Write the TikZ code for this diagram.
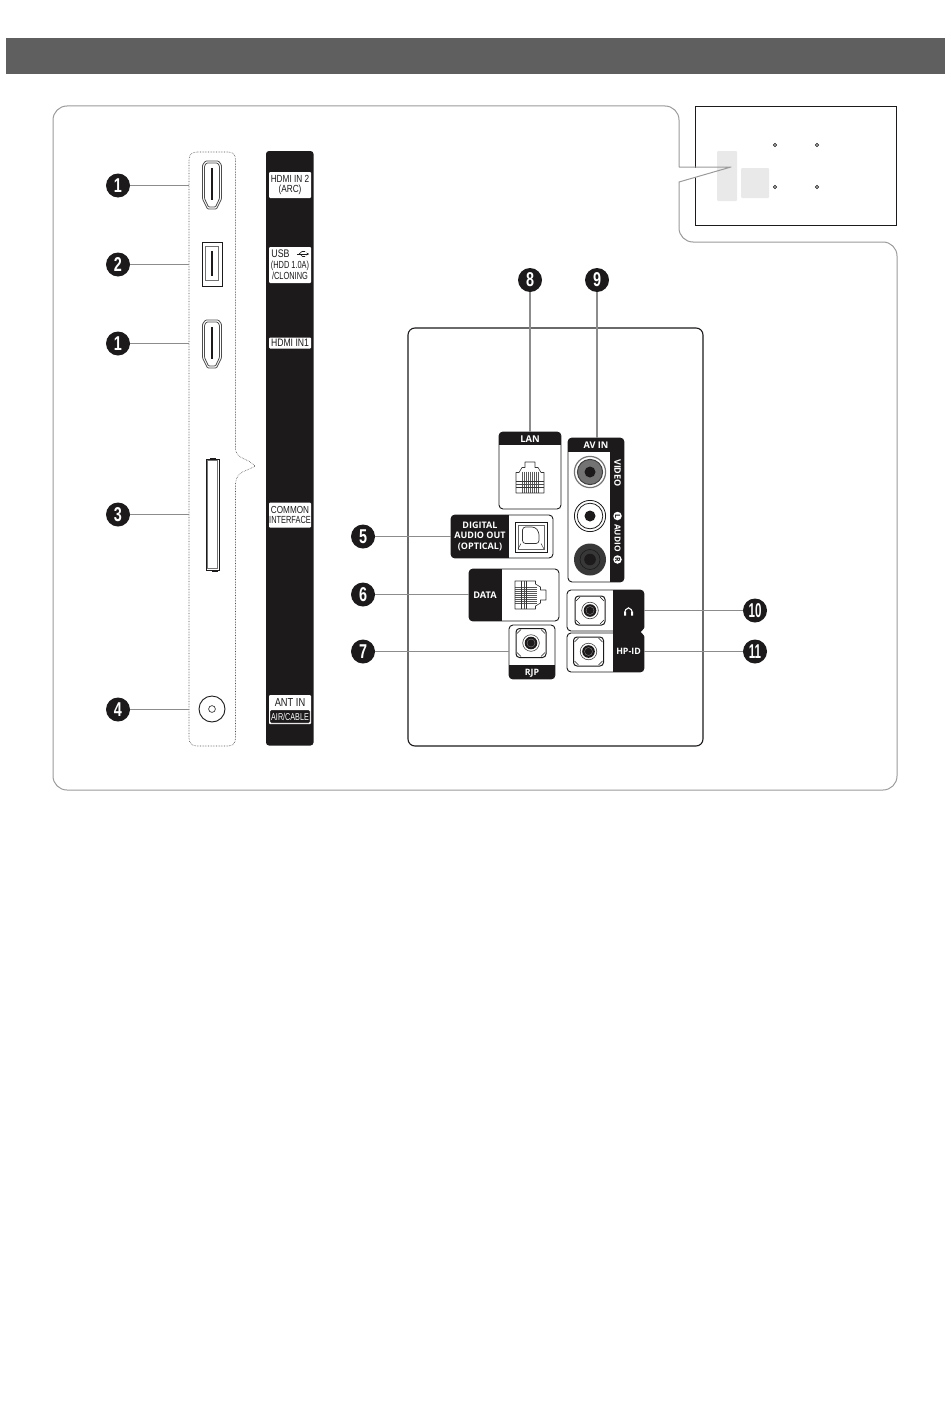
\documentclass[tikz,border=0pt]{standalone}
\usepackage{fontspec}
\setmainfont{Liberation Sans}
\newfontfamily\narrowf[FakeStretch=0.8]{Liberation Sans}
\newfontfamily\condf[FakeStretch=0.72]{Liberation Sans}
\newfontfamily\numf[FakeStretch=0.72]{Liberation Sans}
\newfontfamily\numtwo[FakeStretch=0.58]{Liberation Sans}
\newfontfamily\portf{Open Sans}
\usetikzlibrary{fit,arrows.meta}
\definecolor{headgray}{HTML}{5F5F5F}
\definecolor{panelgray}{HTML}{9A9A9A}
\definecolor{leadgray}{HTML}{8C8C8C}
\definecolor{softgray}{HTML}{E9E9E9}
\definecolor{band}{HTML}{1C1A1B}
\tikzset{
  panelline/.style={draw=panelgray,line width=1pt},
  lead/.style={draw=leadgray,line width=1.1pt},
  badge/.style={circle,fill=band,text=white,minimum size=24pt,inner sep=0pt,font=\fontsize{20}{20}\numf\bfseries},
  badgetwo/.style={badge,font=\fontsize{20}{20}\numtwo\bfseries},
  bandlabel/.style={fill=white,text=band,rounded corners=1pt,inner sep=0pt,align=center,minimum width=42pt},
  portbox/.style={draw=band,fill=white,line width=0.9pt,rounded corners=4pt,inner sep=0pt,outer sep=0pt},
  portlabel/.style={text=white,inner sep=0pt,align=center,font=\fontsize{8.8}{10.2}\portf\bfseries},
  thinblack/.style={draw=black!80,line width=0.6pt},
  hdmiout/.style={draw=black!70,line width=0.8pt},
  hollow/.style={inner sep=0pt,outer sep=0pt},
}
\newcommand\pbox[5]{%
  \node[portbox,fit={#2#3}] (#1) {};
  \begin{scope}\clip[rounded corners=4pt] #2 rectangle #3; \fill[band] #4 rectangle #5;\end{scope}}
\newcommand\hdmiport[1]{%
  \begin{scope}[shift={#1}]
    \draw[hdmiout,rounded corners=1pt] (-6.5,-24) -- (6.5,-24) -- (9.5,-20) -- (9.5,14) -- (4.5,24) -- (-4.5,24) -- (-9.5,14) -- (-9.5,-20) -- cycle;
    \draw[hdmiout,rounded corners=1pt] (-5.5,-22) -- (5.5,-22) -- (7.5,-19) -- (7.5,13.5) -- (3.5,22) -- (-3.5,22) -- (-7.5,13.5) -- (-7.5,-19) -- cycle;
    \draw[band,line width=2.6pt] (0,-17) -- (0,15);
  \end{scope}}
\newcommand\rjport[2]{%
  \begin{scope}[shift={#1},rotate=#2]
    \foreach \px in {-8,-6,...,8} \draw[black!65,line width=0.4pt] (\px,-6) -- (\px,15.5);
    \draw[thinblack,line join=round] (-14,15.5) -- (-14,-5) -- (-11,-5) -- (-8,-10) -- (-5,-10) -- (-5,-15.5) -- (5,-15.5) -- (5,-10) -- (8,-10) -- (11,-5) -- (14,-5) -- (14,15.5) -- cycle;
    \draw[thinblack] (-14,4) -- (14,4) (-14,9.5) -- (14,9.5);
    \draw[black!70,line width=0.35pt] (-14,6.5) -- (14,6.5);
  \end{scope}}
\newcommand\jackport[1]{%
  \begin{scope}[shift={#1}]
    \draw[draw=band,line width=1pt,rounded corners=3.5pt] (-15,-14.5) rectangle (15,14.5);
    \draw[draw=band,line width=0.5pt] (-14,-9.5) -- (-10,-13.5) (14,-9.5) -- (10,-13.5) (-14,9.5) -- (-10,13.5) (14,9.5) -- (10,13.5);
    \draw[draw=black!75,line width=0.6pt] (0,0) circle (8.3pt);
    \fill[band] (0,0) circle (6.3pt);
    \fill[black!55] (0,0) circle (4.3pt);
    \fill[band] (0,0) circle (3.6pt);
  \end{scope}}
\begin{document}
\begin{tikzpicture}[x=1pt,y=-1pt]
\useasboundingbox (0,0) rectangle (950,1426);
% header
\node[fill=headgray,hollow,fit={(6,38)(945,74)}] (header) {};
% locator inset
\node[draw=band,line width=1pt,hollow,fit={(695,107)(896.5,225)}] (inset) {};
\fill[softgray,rounded corners=1pt] (717,151) rectangle (737,201);
\fill[softgray,rounded corners=1pt] (741,168) rectangle (769,198);
\foreach \dx/\dy in {775/145,817/145,775/187,817/187}
  \draw[band,line width=0.8pt,fill=white] (\dx,\dy) circle (1.6pt);
\fill[white] (693.5,167.6) rectangle (696.5,177);
% outer outline with notch
\draw[panelline,rounded corners=14pt,line join=round] (53,300) -- (53,106) -- (679,106) -- (679,150) [sharp corners] -- (679,167) -- (731,167) -- (679,182) -- (679,205) [rounded corners=14pt] -- (679,242) -- (897,242) -- (897,790) -- (53,790) -- cycle;
% dotted strip
\node[hollow,minimum width=47pt,minimum height=594pt] (strip) at (212.5,449) {};
\draw[draw=black!70,line width=0.6pt,densely dotted]
  (197,152) -- (228,152) .. controls (233,152) and (235.5,154.5) .. (235.5,160) -- (235.5,449)
  .. controls (236,459) and (248,458) .. (255,466) .. controls (249,471) and (236,470) .. (235.5,484)
  -- (235.5,738) .. controls (235.5,743) and (233,746) .. (228,746) -- (197,746)
  .. controls (192,746) and (189,743) .. (189,738) -- (189,160) .. controls (189,154.5) and (192,152) .. (197,152) -- cycle;
% side ports
\hdmiport{(212,185)}
\hdmiport{(212,344)}
\node[draw=band,line width=0.8pt,hollow,fit={(202.5,242)(222,286.5)}] (usbport) {};
\draw[draw=black!55,line width=1pt] (205.5,246.5) rectangle (218.5,280.5);
\draw[band,line width=2.2pt] (212,251) -- (212,276);
\node[draw=band,line width=0.8pt,hollow,fit={(206,459)(219,570)}] (cislot) {};
\draw[draw=black!55,line width=1pt] (207.8,460.5) rectangle (217.2,568.5);
\draw[band,line width=0.7pt] (210,458) -- (216,458) (212,571) -- (218,571);
\node[circle,draw=band,line width=0.9pt,minimum size=26pt,hollow] (antport) at (212,709) {};
\draw[draw=band,line width=0.6pt] (antport.center) circle (3.4pt);
% black band
\node[fill=band,rounded corners=3pt,hollow,fit={(266,151)(313.5,745.5)}] (blackband) {};
\node[bandlabel,minimum height=26pt,font=\fontsize{10.3}{10.6}\narrowf] (l1) at (290,185) {HDMI IN 2\\(ARC)};
\node[bandlabel,minimum height=36pt,font=\fontsize{10.3}{10.8}\condf] (l2) at (290,265) {{\fontsize{11}{10.8}\narrowf USB}\hspace{17pt}\phantom{.}\\(HDD 1.0A)\\/CLONING};
\draw[band,line width=0.6pt,-{Stealth[length=2.5pt,width=2.5pt]}] (297,254) -- (309,254);
\draw[band,line width=0.6pt] (299,254) -- (302,251.5) -- (305,251.5) (300,254) -- (302.5,256.5) -- (305,256.5);
\node[bandlabel,minimum height=11pt,font=\fontsize{10.8}{11}\narrowf] (l3) at (290,343) {HDMI IN1};
\node[bandlabel,minimum height=25pt,font=\fontsize{10.3}{10.8}\condf] (l4) at (290,515) {{\fontsize{10.2}{10.8}\narrowf COMMON}\\INTERFACE};
\node[fill=white,rounded corners=1pt,hollow,fit={(269,695)(311,724)}] (antbox) {};
\node[text=band,inner sep=0pt,font=\fontsize{11.6}{12}\narrowf] (l5) at (290,702.5) {ANT IN};
\node[fill=band,draw=white,line width=0.4pt,rounded corners=1pt,text=white,inner sep=0pt,minimum width=40pt,minimum height=13pt,font=\fontsize{10}{10}\condf] (l6) at (290,716.5) {AIR/CABLE};
% back panel
\node[draw=band,line width=1.1pt,rounded corners=7pt,hollow,fit={(408,328)(703,746)}] (backpanel) {};
% port boxes
\pbox{lan}{(499,432)}{(561,509)}{(499,432)}{(561,445)}
\pbox{avin}{(568,438)}{(624,582)}{(568,438)}{(624,452)}
\begin{scope}\clip[rounded corners=4pt] (568,438) rectangle (624,582); \fill[band] (610,452) rectangle (624,582);\end{scope}
\pbox{dig}{(451,515)}{(553,558)}{(451,515)}{(509,558)}
\pbox{data}{(469,569)}{(559,621)}{(469,569)}{(502,621)}
\pbox{rjp}{(509,625)}{(555,679)}{(509,665)}{(555,679)}
\pbox{hp}{(567,590)}{(644,631)}{(613,590)}{(644,631)}
\pbox{hpid}{(567,633)}{(644,672)}{(613,633)}{(644,672)}
\fill[band] (613,628) rectangle (644,637);
\fill[white] (645,627.5) -- (641,632) -- (645,636.5) -- cycle;
% port labels
\node[portlabel,font=\fontsize{9.4}{10}\portf\bfseries] (tlan) at (530,439.3) {LAN};
\node[portlabel,font=\fontsize{9.2}{10}\portf\bfseries] (tav) at (596,445) {AV IN};
\node[portlabel,font=\fontsize{9}{10.2}\portf\bfseries] (tdig) at (480,536.3) {DIGITAL\\AUDIO OUT\\(OPTICAL)};
\node[portlabel,font=\fontsize{9.2}{10}\portf\bfseries] (tdata) at (485,595) {DATA};
\node[portlabel] (trjp) at (532,672.8) {RJP};
\node[portlabel] (thpid) at (628.5,651) {HP-ID};
\node[portlabel,rotate=-90,font=\fontsize{9}{9}\portf\bfseries] (tvid) at (617.5,473) {VIDEO};
\node[portlabel,rotate=-90,font=\fontsize{8.3}{9}\portf\bfseries] (taud) at (617.5,538) {AUDIO};
\node[circle,fill=white,text=band,rotate=-90,inner sep=0pt,minimum size=8.5pt,font=\fontsize{7}{7}\portf\bfseries] (tl) at (617.5,516) {L};
\node[circle,fill=white,text=band,rotate=-90,inner sep=0pt,minimum size=8.5pt,font=\fontsize{7}{7}\portf\bfseries] (tr) at (617.5,559.5) {R};
% headphone icon
\draw[white,line width=1.1pt] (624.8,615) .. controls (624,605.5) and (633,605.5) .. (632.2,615);
\fill[white] (624,611.5) rectangle (626,615.5) (631,611.5) rectangle (633,615.5);
% connectors in boxes
\rjport{(530,477.5)}{0}
\rjport{(530.5,595)}{-90}
% optical
\draw[draw=band,line width=0.8pt] (515,522) rectangle (547,552);
\draw[draw=black!60,line width=0.9pt] (518,525) rectangle (544,549);
\draw[draw=black!80,line width=0.7pt,rounded corners=3pt] (522.5,543.5) -- (522.5,527) -- (535,527) -- (539,532) -- (539,543.5) -- cycle;
\draw[draw=band,line width=0.4pt] (518,549) -- (521,543.5) (544,549) -- (541,543.5);
% RCA video
\fill[white] (590,472) circle (16pt);
\draw[draw=black!55,line width=1.2pt] (590,472) circle (15.6pt);
\draw[draw=black!75,fill=black!55,line width=1pt] (590,472) circle (12.6pt);
\fill[band] (590,472) circle (5.5pt);
% RCA L
\draw[draw=band,line width=0.8pt] (590,516) circle (15.6pt);
\draw[draw=band,line width=0.8pt] (590,516) circle (12.8pt);
\fill[band] (590,516) circle (5.5pt);
% RCA R
\fill[black!78] (590,559.5) circle (16pt);
\draw[draw=black!90,line width=0.6pt] (590,559.5) circle (10pt);
\fill[band] (590,559.5) circle (5.8pt);
% jacks
\jackport{(590,610.5)}
\jackport{(588.5,651.5)}
\jackport{(531,643)}
% badges
\node[badge] (b1a) at (118,185.5) {1};
\node[badge] (b2) at (118,264.5) {2};
\node[badge] (b1b) at (118,343.5) {1};
\node[badge] (b3) at (118,514.5) {3};
\node[badge] (b4) at (118,709.5) {4};
\node[badge] (b5) at (363,536.5) {5};
\node[badge] (b6) at (363,594.5) {6};
\node[badge] (b7) at (363,651.5) {7};
\node[badge] (b8) at (530,280) {8};
\node[badge] (b9) at (597,280) {9};
\node[badgetwo] (b10) at (755,610.5) {10};
\node[badgetwo] (b11) at (755,651.5) {11};
% leaders
\foreach \bn in {b1a,b2,b1b,b3,b4} \draw[lead] (\bn) -- (\bn -| strip.west);
\draw[lead] (b5) -- (b5 -| dig.west);
\draw[lead] (b6) -- (b6 -| data.west);
\draw[lead] (b7) -- (b7 -| rjp.west);
\draw[lead] (b8) -- (b8 |- lan.north);
\draw[lead] (b9) -- (b9 |- avin.north);
\draw[lead] (b10) -- (b10 -| hp.east);
\draw[lead] (b11) -- (b11 -| hpid.east);
\end{tikzpicture}
\end{document}
